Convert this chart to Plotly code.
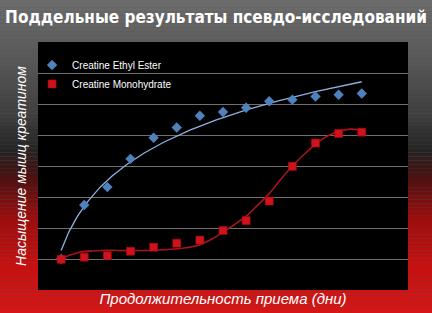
import numpy as np
import plotly.graph_objects as go

# ---- data ----
days = [1, 2, 3, 4, 5, 6, 7, 8, 9, 10, 11, 12, 13, 14]
ethyl_ester = [1.0, 2.74, 3.32, 4.23, 4.91, 5.24, 5.62, 5.74, 5.88, 6.09, 6.14, 6.24, 6.30, 6.34]
monohydrate = [0.99, 1.06, 1.11, 1.25, 1.38, 1.51, 1.61, 1.92, 2.24, 2.87, 3.99, 4.74, 5.05, 5.09]
# red trend curve
mono_curve_x = [1, 1.36, 1.79, 2.37, 3, 4, 5, 6, 6.55, 7, 7.56, 8, 8.49, 9, 9.5, 10, 10.5,
                11, 11.5, 12, 12.5, 13, 13.5, 14]
mono_curve_y = [1.0, 1.12, 1.22, 1.26, 1.28, 1.27, 1.28, 1.33, 1.38, 1.46, 1.66, 1.87, 2.11,
                2.38, 2.74, 3.11, 3.57, 4.0, 4.37, 4.70, 4.96, 5.11, 5.19, 5.15]
series_names = ["Creatine Ethyl Ester", "Creatine Monohydrate"]
title_text = "Поддельные результаты псевдо-исследований"
x_title = "Продолжительность приема (дни)"
y_title = "Насыщение мышц креатином"

# blue logarithmic trendline fitted from the data
xd = np.array(days, dtype=float)
xs = np.linspace(xd.min(), xd.max(), 300)
a, b = np.polyfit(np.log(xd), np.array(ethyl_ester), 1)
blue_fit = a * np.log(xs) + b

W, H = 432, 313
fig = go.Figure()
fig.add_trace(go.Scatter(x=xs, y=blue_fit, mode="lines", showlegend=False, hoverinfo="skip",
                         line=dict(color="#8fb0e0", width=1.3)))
fig.add_trace(go.Scatter(x=mono_curve_x, y=mono_curve_y, mode="lines", showlegend=False,
                         hoverinfo="skip",
                         line=dict(color="#a8141c", width=1.6, shape="spline", smoothing=1)))
fig.add_trace(go.Scatter(x=days, y=ethyl_ester, mode="markers", name=series_names[0],
                         marker=dict(symbol="diamond", size=8, color="#4f81bd", line=dict(width=0))))
fig.add_trace(go.Scatter(x=days, y=monohydrate, mode="markers", name=series_names[1],
                         marker=dict(symbol="square", size=8, color="#d0121c",
                                     line=dict(width=0.6, color="#a00a10"))))

ml, mr, mt, mb = 38, 24, 42, 23
pw, ph = W - ml - mr, H - mt - mb
stops = [(0, (108, 108, 108)), (60, (88, 88, 88)), (115, (62, 62, 62)), (150, (38, 36, 36)),
         (175, (70, 18, 18)), (215, (150, 14, 14)), (260, (195, 16, 16)), (313, (212, 22, 22))]
shapes = []
n = 80
for i in range(n):
    y0, y1 = i * H / n, (i + 1) * H / n
    ym = (y0 + y1) / 2
    for j in range(len(stops) - 1):
        if stops[j][0] <= ym <= stops[j + 1][0]:
            t = (ym - stops[j][0]) / (stops[j + 1][0] - stops[j][0])
            c = tuple(int(round(stops[j][1][k] + t * (stops[j + 1][1][k] - stops[j][1][k]))) for k in range(3))
            break
    shapes.append(dict(type="rect", xref="paper", yref="paper", layer="below",
                       x0=-ml / pw, x1=1 + mr / pw, y0=1 + (mt - y1) / ph, y1=1 + (mt - y0) / ph,
                       line=dict(width=0), fillcolor="rgb(%d,%d,%d)" % c))
shapes.append(dict(type="rect", xref="paper", yref="paper", layer="below",
                   x0=0, x1=1, y0=0, y1=1, line=dict(width=0), fillcolor="black"))

fig.update_layout(
    width=W, height=H, margin=dict(l=ml, r=mr, t=mt, b=mb),
    paper_bgcolor="#555555", plot_bgcolor="rgba(0,0,0,0)", shapes=shapes,
    title=dict(text="<b>" + title_text + "</b>", xref="container", x=0.5, xanchor="center",
               yref="container", y=1 - 17 / H, yanchor="middle",
               font=dict(family="DejaVu Sans Condensed", size=17, color="white")),
    xaxis=dict(range=[0, 16], showgrid=False, zeroline=False, showticklabels=False,
               ticks="", showline=False, automargin=False,
               title=dict(text="<i>" + x_title + "</i>", standoff=3,
                          font=dict(family="Liberation Sans, sans-serif", size=15, color="white"))),
    yaxis=dict(range=[0, 8], dtick=1, showgrid=True, gridcolor="#707070", gridwidth=1,
               zeroline=False, showticklabels=False, ticks="", showline=False, automargin=False,
               title=dict(text="<i>" + y_title + "</i>", standoff=7,
                          font=dict(family="Liberation Sans, sans-serif", size=14, color="white"))),
    legend=dict(x=-0.016, y=0.966, xanchor="left", yanchor="top", bgcolor="rgba(0,0,0,0)",
                font=dict(family="Liberation Sans, sans-serif", size=10, color="white"),
                itemwidth=30, tracegroupgap=0),
)
fig.write_html("out.html")
